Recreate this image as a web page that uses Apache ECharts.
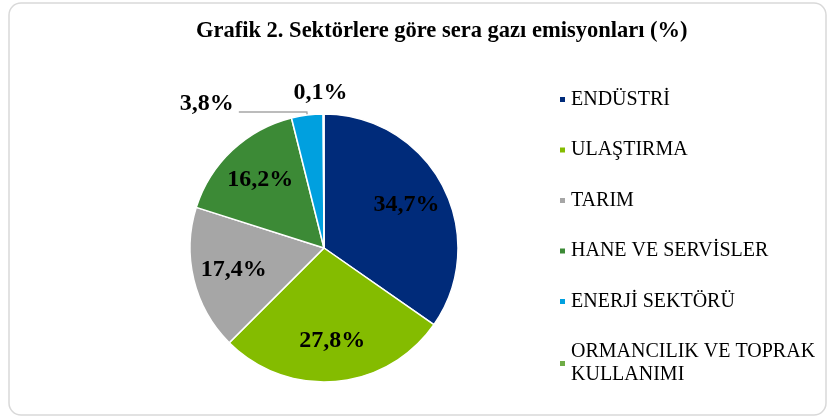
<!DOCTYPE html>
<html>
<head>
<meta charset="utf-8">
<script src="https://cdn.jsdelivr.net/npm/echarts@6/dist/echarts.min.js"></script>
<style>
  html, body { margin: 0; padding: 0; background: #fff; }
  #chart { width: 829px; height: 418px; }
</style>
</head>
<body>
<div id="chart"></div>
<script>
// data
var titleText = 'Grafik 2. Sektörlere göre sera gazı emisyonları (%)';
var sectors = ['ENDÜSTRİ', 'ULAŞTIRMA', 'TARIM', 'HANE VE SERVİSLER', 'ENERJİ SEKTÖRÜ', 'ORMANCILIK VE TOPRAK KULLANIMI'];
var shares = [34.7, 27.8, 17.4, 16.2, 3.8, 0.1];

var palette = ['#002B7A', '#84BC00', '#A6A6A6', '#3C8A36', '#00A0DF', '#6FAC46'];
var serif = '"Liberation Serif", "Times New Roman", serif';

var center = [324, 248];
var outerR = 134;

function pct(v) {
    return v.toFixed(1).replace('.', ',') + '%';
}

var pieData = sectors.map(function (name, i) {
    return { name: name, value: shares[i], itemStyle: { color: palette[i] } };
});

// second, invisible ring only carries the labels (puts inside labels further out)
var labelData = sectors.map(function (name, i) {
    var item = { name: name, value: shares[i] };
    if (shares[i] < 5) {
        item.label = { position: 'outside' };
        if (i === 4) {
            item.labelLine = { show: true, length: 3, length2: 68, lineStyle: { color: '#A6A6A6', width: 1.5 } };
        } else {
            item.labelLine = { show: false, length: 0, length2: 0 };
        }
    }
    return item;
});

var myChart = echarts.init(document.getElementById('chart'));
var option = {
    animation: false,
    graphic: [{
        type: 'rect',
        shape: { x: 9, y: 3, width: 817, height: 412, r: 12 },
        style: { fill: 'none', stroke: '#D9D9D9', lineWidth: 1.5 },
        silent: true
    }],
    title: {
        text: titleText,
        left: 196,
        top: 20,
        padding: 0,
        textStyle: { fontFamily: serif, fontSize: 22.5, fontWeight: 'bold', color: '#000' }
    },
    legend: {
        orient: 'vertical',
        left: 553,
        top: 83,
        itemWidth: 7,
        itemHeight: 7,
        itemGap: 27.5,
        icon: 'rect',
        data: sectors.map(function (name, i) {
            return { name: name, itemStyle: { color: palette[i] } };
        }),
        formatter: function (name) {
            return name.replace(' KULLANIMI', '\nKULLANIMI');
        },
        textStyle: { fontFamily: serif, fontSize: 20, lineHeight: 23, color: '#000' }
    },
    series: [
        {
            type: 'pie',
            center: center,
            radius: [0, outerR],
            startAngle: 90,
            clockwise: true,
            avoidLabelOverlap: false,
            label: { show: false },
            labelLine: { show: false },
            itemStyle: { borderColor: '#fff', borderWidth: 1.5 },
            emphasis: { disabled: true },
            data: pieData
        },
        {
            type: 'pie',
            center: center,
            radius: [46, outerR],
            startAngle: 90,
            clockwise: true,
            silent: true,
            legendHoverLink: false,
            avoidLabelOverlap: false,
            itemStyle: { color: 'rgba(0,0,0,0)', borderWidth: 0 },
            label: {
                show: true,
                position: 'inside',
                formatter: function (p) { return pct(p.value); },
                fontFamily: serif,
                fontSize: 24,
                fontWeight: 'bold',
                color: '#000'
            },
            labelLayout: function (p) {
                if (p.dataIndex === 5) {
                    return { dx: 29, dy: -21 };
                }
                if (p.dataIndex === 4) {
                    return { dy: -8 };
                }
                return {};
            },
            emphasis: { disabled: true },
            data: labelData
        }
    ]
};
myChart.setOption(option);
</script>
</body>
</html>
